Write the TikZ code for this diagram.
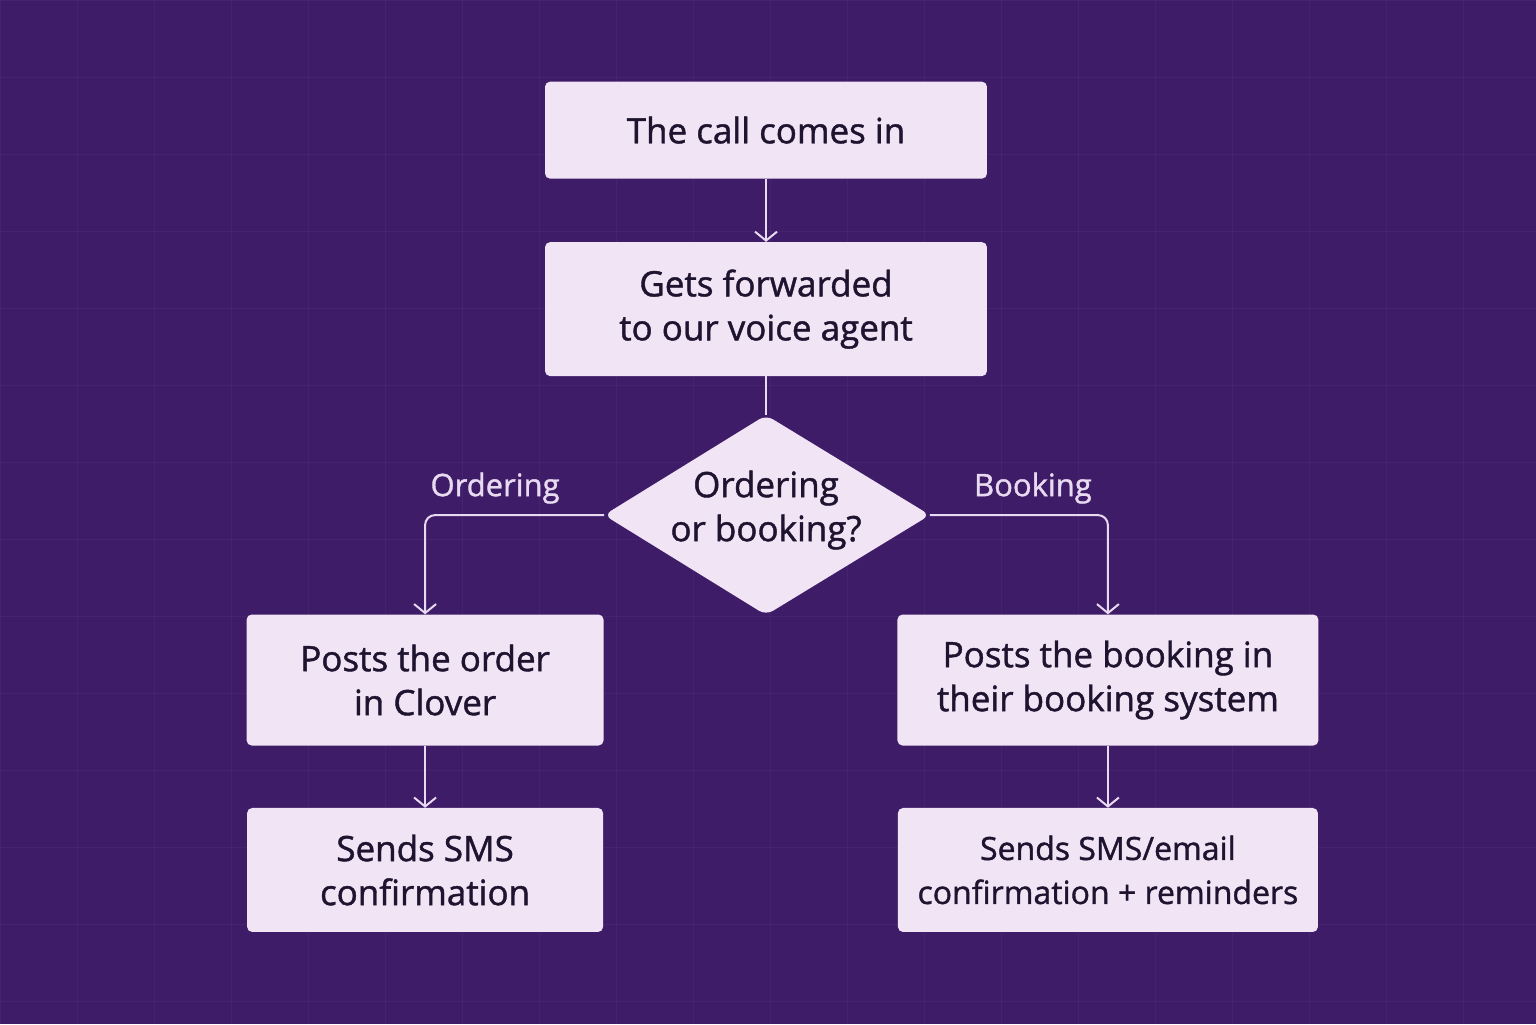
\documentclass[tikz,border=0pt]{standalone}
\usepackage{fontspec}
\setmainfont{Open Sans}[BoldFeatures={FakeBold=1.2},BoldFont={Open Sans}]
\usetikzlibrary{shapes.geometric,arrows.meta}
\definecolor{bg}{HTML}{3E1C68}
\definecolor{boxc}{HTML}{F1E4F5}
\definecolor{txt}{HTML}{1E1430}
\definecolor{ln}{HTML}{E8DAF0}
\begin{document}
\begin{tikzpicture}[x=1pt,y=-1pt,
  box/.style={draw=none,fill=boxc,rounded corners=5pt,text=txt,align=center,font=\fontsize{35}{44}\selectfont\bfseries,inner sep=0pt},
  lab/.style={text=ln,font=\fontsize{31}{36}\selectfont\bfseries},
  con/.style={draw=ln,line width=2pt,rounded corners=10pt},
  arr/.style={con,-{Straight Barb[length=9pt,width=22pt,line width=2pt]}}]
\fill[bg] (0,0) rectangle (1536,1024);
\foreach \x in {0,77,...,1536} \draw[white,opacity=0.04] (\x,0) -- (\x,1024);
\foreach \y in {0,77,...,1024} \draw[white,opacity=0.04] (0,\y) -- (1536,\y);
\node[box,minimum width=442pt,minimum height=97pt] (a) at (766,130) {The call comes in};
\node[box,minimum width=442pt,minimum height=134pt] (b) at (766,309) {Gets forwarded\\to our voice agent};
\coordinate (dt) at (766,415);
\coordinate (dl) at (604,515);
\coordinate (dr) at (930,515);
\coordinate (db) at (766,615);
\fill[boxc,rounded corners=8pt] (dt) -- (dr) -- (db) -- (dl) -- cycle;
\node[text=txt,align=center,font=\fontsize{35}{44}\selectfont\bfseries] (d) at (766,510) {Ordering\\or booking?};
\node[box,minimum width=357pt,minimum height=131pt] (c) at (425,680) {Posts the order\\in Clover};
\node[box,minimum width=421pt,minimum height=131pt] (e) at (1108,680) {Posts the booking in\\their booking system};
\node[box,minimum width=356pt,minimum height=124pt] (f) at (425,870) {Sends SMS\\confirmation};
\node[box,minimum width=420pt,minimum height=124pt,font=\fontsize{32}{44}\selectfont\bfseries] (g) at (1108,870) {Sends SMS/email\\confirmation + reminders};
\node[lab] (l1) at (495,488) {Ordering};
\node[lab] (l2) at (1033,488) {Booking};
\draw[arr] (a.south) -- (b.north);
\draw[con] (b.south) -- (dt);
\draw[arr] (dl) -| (c.north);
\draw[arr] (dr) -| (e.north);
\draw[arr] (c.south) -- (f.north);
\draw[arr] (e.south) -- (g.north);
\end{tikzpicture}
\end{document}
